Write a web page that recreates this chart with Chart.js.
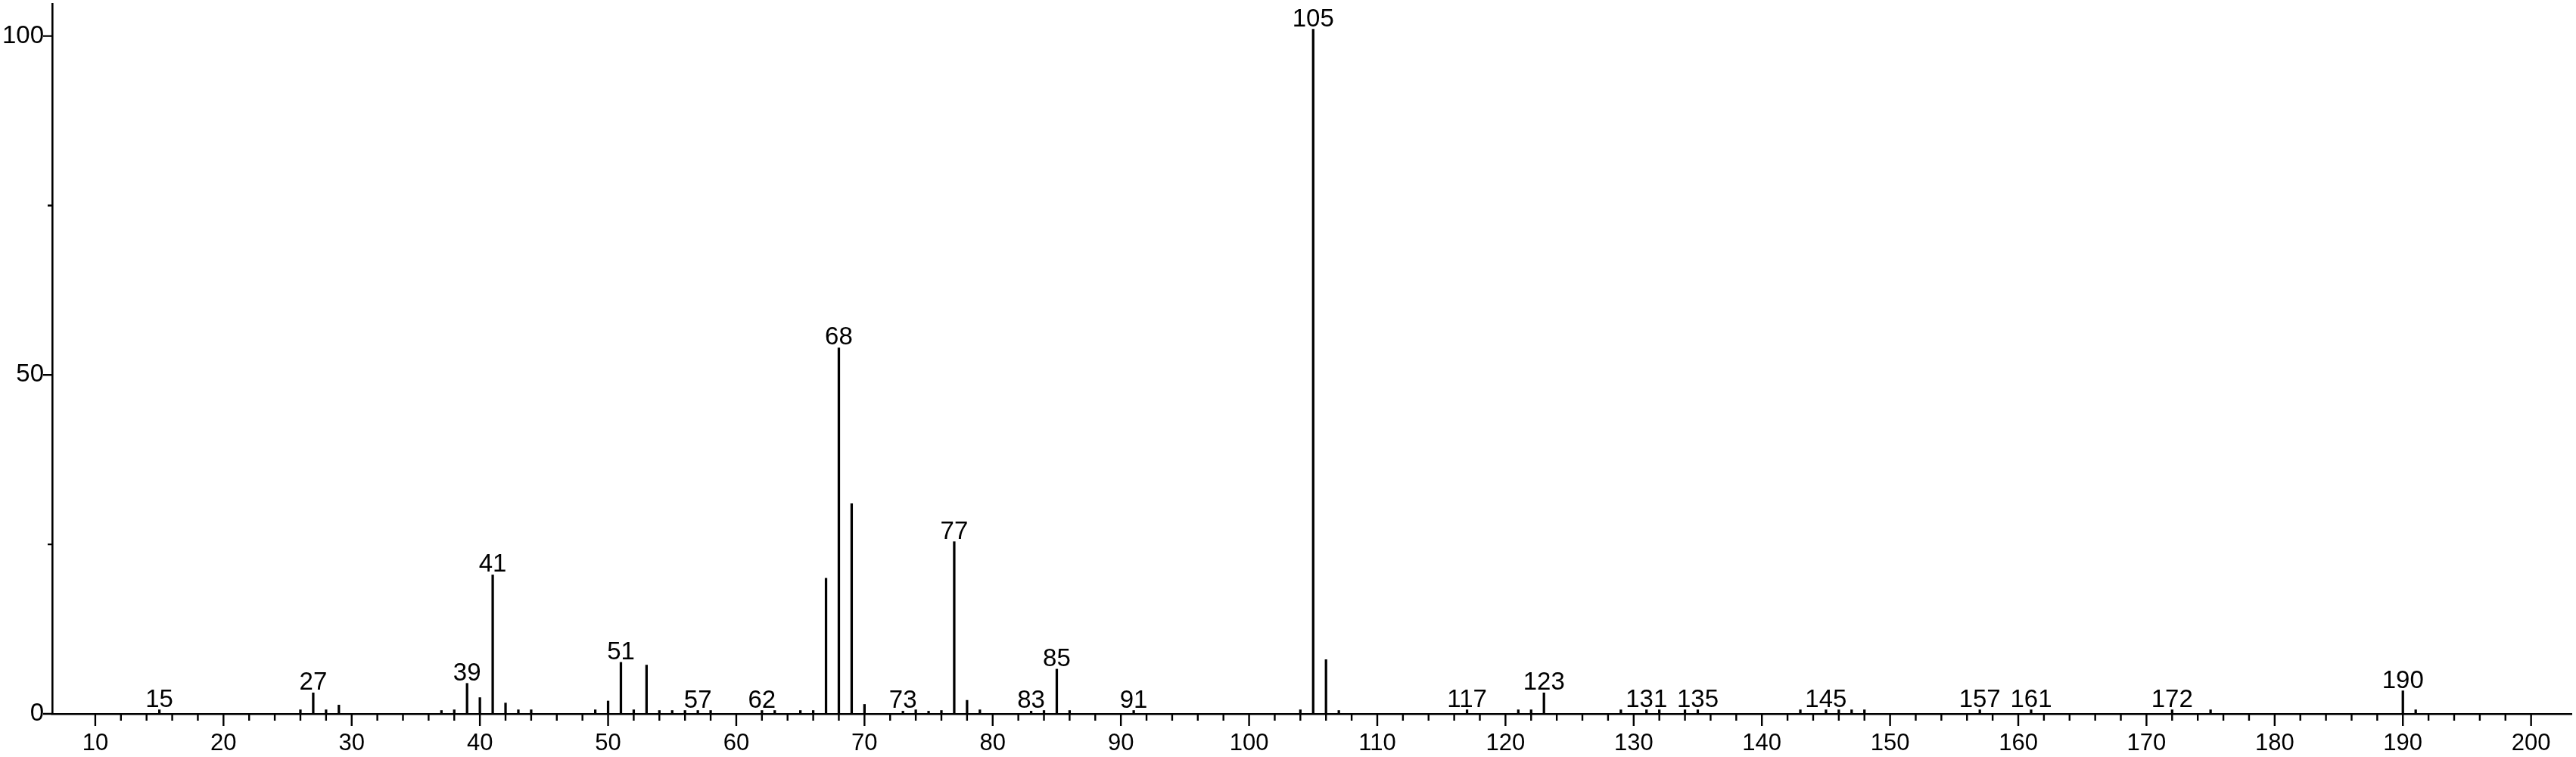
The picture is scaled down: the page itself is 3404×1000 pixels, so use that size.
<!DOCTYPE html>
<html><head><meta charset="utf-8">
<script src="https://cdn.jsdelivr.net/npm/chart.js@4.4.1/dist/chart.umd.min.js"></script>
<style>html,body{margin:0;padding:0;background:#fff;}canvas{display:block;}</style>
</head><body>
<canvas id="c" width="3404" height="1000"></canvas>
<script>
// m/z values and relative intensities
const mz = [15,26,27,28,29,37,38,39,40,41,42,43,44,49,50,51,52,53,54,55,56,57,58,62,63,65,66,67,68,69,70,73,74,75,76,77,78,79,83,84,85,86,91,104,105,106,107,117,121,122,123,129,131,132,134,135,143,145,146,147,148,157,161,172,175,190,191];
const intensity = [0.6,0.6,3.1,0.6,1.3,0.5,0.6,4.5,2.4,20.5,1.6,0.6,0.6,0.6,1.9,7.6,0.6,7.2,0.5,0.5,0.5,0.5,0.5,0.5,0.5,0.5,0.5,20.0,54.0,31.0,1.4,0.4,0.6,0.4,0.5,25.4,2.0,0.6,0.4,0.5,6.6,0.5,0.5,0.6,101,8.0,0.5,0.6,0.6,0.6,3.1,0.6,0.6,0.6,0.6,0.6,0.6,0.6,0.6,0.6,0.6,0.6,0.6,0.6,0.6,3.4,0.6];
const labelledMz = [15,27,39,41,51,57,62,68,73,77,83,85,91,105,117,123,131,135,145,157,161,172,190];
const xTickValues = [10,20,30,40,50,60,70,80,90,100,110,120,130,140,150,160,170,180,190,200];
const yTickValues = [0,50,100];
const yMinorTickValues = [25,75];

const FONT = '"Liberation Sans", Arial, Helvetica, sans-serif';

const marks = {
  id: 'marks',
  afterDraw(chart) {
    const ctx = chart.ctx, xs = chart.scales.x, ys = chart.scales.y, ca = chart.chartArea;
    ctx.save();
    ctx.strokeStyle = '#000';
    ctx.lineWidth = 2.4;
    ctx.beginPath();
    for (let v = xTickValues[0]; v <= xTickValues[xTickValues.length - 1]; v += 2) {
      const px = xs.getPixelForValue(v);
      const len = (v % 10 === 0) ? 16 : 9;
      ctx.moveTo(px, ca.bottom);
      ctx.lineTo(px, ca.bottom + len);
    }
    yTickValues.forEach(v => { const py = ys.getPixelForValue(v); ctx.moveTo(ca.left, py); ctx.lineTo(ca.left - 12, py); });
    yMinorTickValues.forEach(v => { const py = ys.getPixelForValue(v); ctx.moveTo(ca.left, py); ctx.lineTo(ca.left - 6, py); });
    ctx.stroke();
    ctx.fillStyle = '#000';
    ctx.font = '33px ' + FONT;
    ctx.textAlign = 'center';
    ctx.textBaseline = 'alphabetic';
    labelledMz.forEach(m => {
      const i = mz.indexOf(m);
      const px = xs.getPixelForValue(m);
      const py = ys.getPixelForValue(intensity[i]);
      ctx.fillText(String(m), px, py - 4);
    });
    ctx.restore();
  }
};

new Chart(document.getElementById('c'), {
  type: 'bar',
  data: {
    datasets: [{
      data: mz.map((m, i) => ({ x: m, y: intensity[i] })),
      backgroundColor: '#000',
      borderWidth: 0,
      barThickness: 2.6
    }]
  },
  options: {
    responsive: false,
    devicePixelRatio: 1,
    animation: false,
    layout: { padding: { top: 5, right: 6, left: 0, bottom: 0 } },
    plugins: { legend: { display: false }, tooltip: { enabled: false } },
    scales: {
      x: {
        type: 'linear',
        offset: false,
        min: 6.64,
        max: 203.15,
        grid: { display: false, drawTicks: false, offset: false },
        border: { display: true, color: '#000', width: 2.6 },
        afterBuildTicks: s => { s.ticks = xTickValues.map(v => ({ value: v })); },
        afterFit: s => { s.height = 57; s.paddingLeft = 0; s.paddingRight = 0; },
        ticks: { color: '#000', font: { family: FONT, size: 31 }, padding: 21, maxRotation: 0, autoSkip: false }
      },
      y: {
        type: 'linear',
        min: 0,
        max: 104.76,
        grid: { display: false, drawTicks: false },
        border: { display: true, color: '#000', width: 2.6 },
        afterBuildTicks: s => { s.ticks = yTickValues.map(v => ({ value: v })); },
        afterFit: s => { s.width = 69; s.paddingTop = 0; s.paddingBottom = 0; },
        ticks: { color: '#000', font: { family: FONT, size: 33 }, padding: 11 }
      }
    }
  },
  plugins: [marks]
});
</script>
</body></html>
